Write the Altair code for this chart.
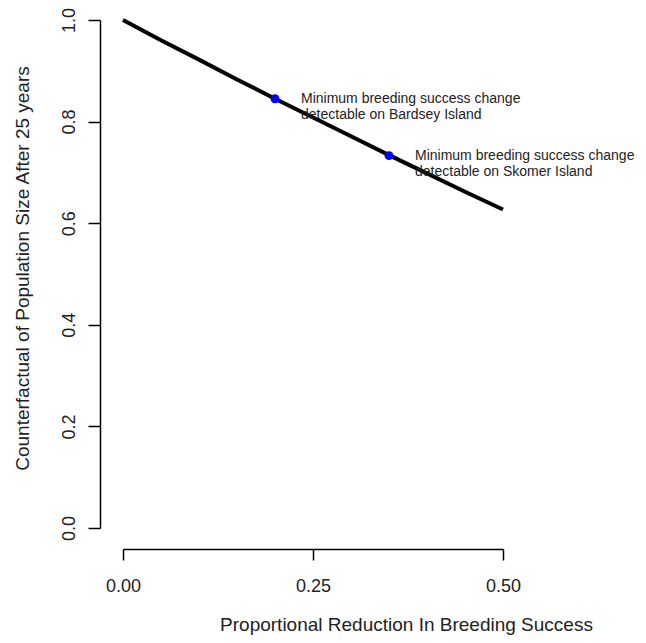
import altair as alt
import pandas as pd

# Curve: proportional reduction in breeding success vs counterfactual population size
reduction = [0.00, 0.05, 0.10, 0.15, 0.20, 0.25, 0.30, 0.35, 0.40, 0.45, 0.50]
counterfactual = [1.000, 0.960, 0.922, 0.883, 0.845, 0.808, 0.771, 0.734, 0.698, 0.662, 0.627]

# Marked points
site_x = [0.20, 0.35]
site_y = [0.845, 0.733]
site_labels = [
    "Minimum breeding success change\n detectable on Bardsey Island",
    "Minimum breeding success change\n detectable on Skomer Island",
]

x_ticks = [0.0, 0.25, 0.5]
y_ticks = [0.0, 0.2, 0.4, 0.6, 0.8, 1.0]

FONT = "Liberation Sans"
TXT = "#222222"

curve = pd.DataFrame({"x": reduction, "y": counterfactual})
sites = pd.DataFrame({"x": site_x, "y": site_y, "label": site_labels})

xscale = alt.Scale(domain=[0, 0.5], nice=False, zero=False)
yscale = alt.Scale(domain=[0, 1], nice=False, zero=False)

xaxis = alt.Axis(
    title="Proportional Reduction In Breeding Success",
    values=x_ticks, format=".2f", grid=False, offset=21,
    domainColor="black", domainWidth=1.5, tickColor="black", tickWidth=1.5, tickSize=11,
    labelFont=FONT, labelFontSize=18, labelColor=TXT, labelPadding=17,
    labelFlush=False,
    titleFont=FONT, titleFontSize=19, titleColor=TXT, titleFontWeight="normal",
    titleX=283, titleY=81, titleBaseline="alphabetic", titleAlign="center",
)
yaxis = alt.Axis(
    title="Counterfactual of Population Size After 25 years",
    values=y_ticks, format=".1f", grid=False, offset=23,
    domainColor="black", domainWidth=1.5, tickColor="black", tickWidth=1.5, tickSize=12,
    labelFont=FONT, labelFontSize=18, labelColor=TXT, labelPadding=10,
    labelAngle=-90, labelAlign="center", labelBaseline="bottom", labelFlush=False,
    titleFont=FONT, titleFontSize=19, titleColor=TXT, titleFontWeight="normal",
    titleAngle=-90, titleX=-78, titleY=248, titleBaseline="middle", titleAlign="center",
)

line = alt.Chart(curve).mark_line(color="black", strokeWidth=4).encode(
    x=alt.X("x:Q", scale=xscale, axis=xaxis),
    y=alt.Y("y:Q", scale=yscale, axis=yaxis),
)

pts = alt.Chart(sites).mark_circle(color="#0000ff", opacity=1, size=80).encode(
    x=alt.X("x:Q", scale=xscale),
    y=alt.Y("y:Q", scale=yscale),
)

txt = alt.Chart(sites).mark_text(
    align="left", baseline="middle", dx=26, font=FONT, fontSize=14,
    color=TXT, lineBreak="\n", lineHeight=16.7,
).encode(
    x=alt.X("x:Q", scale=xscale),
    y=alt.Y("y:Q", scale=yscale),
    text="label:N",
)

chart = (line + pts + txt).properties(
    width=380, height=508,
    autosize=alt.AutoSizeParams(type="none"),
    padding={"left": 115, "top": 12, "right": 135, "bottom": 107},
).configure(
    background="white",
    view=alt.ViewConfig(strokeWidth=0, stroke="transparent"),
)

chart.save("out.html", embed_options={"renderer": "svg", "actions": False})
